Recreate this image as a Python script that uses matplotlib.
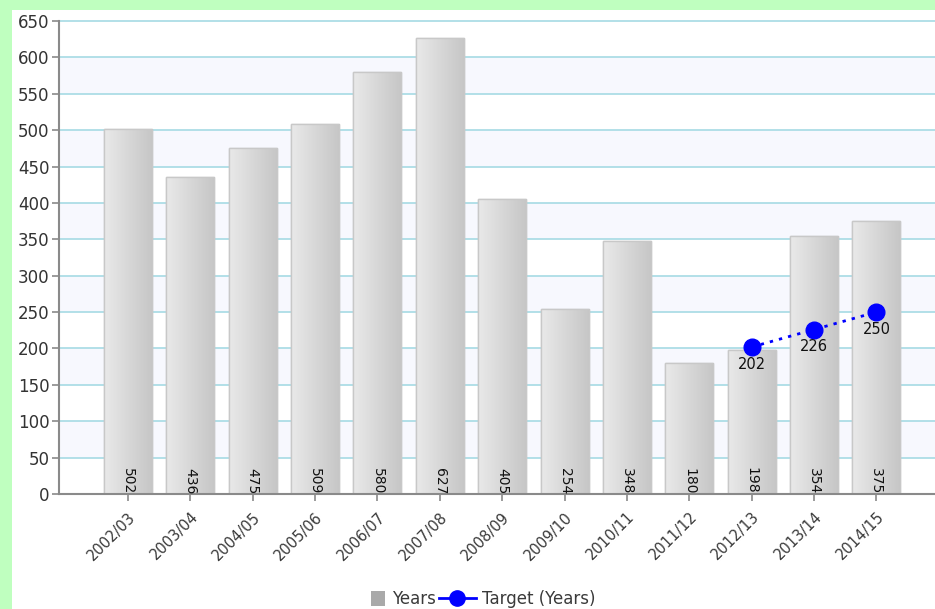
import matplotlib
matplotlib.use("Agg")
import matplotlib.pyplot as plt
import numpy as np
from matplotlib.patches import Rectangle, Patch
from matplotlib.lines import Line2D
from matplotlib.legend_handler import HandlerPatch

# Data
categories = ["2002/03", "2003/04", "2004/05", "2005/06", "2006/07", "2007/08", "2008/09",
              "2009/10", "2010/11", "2011/12", "2012/13", "2013/14", "2014/15"]
years = [502, 436, 475, 509, 580, 627, 405, 254, 348, 180, 198, 354, 375]
target_categories = ["2012/13", "2013/14", "2014/15"]
target_values = [202, 226, 250]
y_ticks = list(range(0, 651, 50))

W, H = 935, 609
fig = plt.figure(figsize=(W / 100, H / 100), dpi=100, facecolor="#bfffbf")

# white chart panel inside the green frame
fig.patches.append(Rectangle((12 / W, 0), 1 - 12 / W, 1 - 10 / H,
                             transform=fig.transFigure, facecolor="white",
                             edgecolor="none", zorder=-5))

ax = fig.add_axes([59 / W, 115 / H, 1 - 59 / W, (494 - 21) / H])
ax.set_facecolor("white")

x = np.arange(len(categories))

# alternating horizontal bands
for lo in range(50, 650, 100):
    ax.axhspan(lo, lo + 50, facecolor="#f7f8fe", edgecolor="none", zorder=0)
for t in y_ticks[1:]:
    ax.axhline(t, color="#acdde6", lw=1.3, zorder=1, clip_on=False)

# gradient-filled bars
bars = ax.bar(x, years, width=0.77, color="#d6d6d6", edgecolor="#c8c8c8",
              linewidth=1, zorder=2)
grad = np.linspace(0, 1, 64).reshape(1, -1)
cmap = matplotlib.colors.LinearSegmentedColormap.from_list("g", ["#e9e9e9", "#c6c6c6"])
for b in bars:
    x0, w, h = b.get_x(), b.get_width(), b.get_height()
    im = ax.imshow(grad, extent=[x0, x0 + w, 0, h], aspect="auto", cmap=cmap,
                   zorder=2.1, interpolation="bicubic")
    im.set_clip_path(b)
    ax.add_patch(Rectangle((x0, 0), w, h, facecolor="none", edgecolor="#c8c8c8",
                           lw=1, zorder=2.2))

# value labels inside the bars
for xi, v in zip(x, years):
    ax.text(xi, 0, str(v), rotation=270, ha="center", va="bottom",
            fontsize=10, color="#111111", zorder=3)

# target line
tx = [categories.index(c) for c in target_categories]
ax.plot(tx, target_values, color="#0000ff", lw=2, linestyle=(0, (1.2, 2.2)),
        marker="o", markersize=12, markerfacecolor="#0000ff",
        markeredgecolor="#0000ff", zorder=4)
for xi, v in zip(tx, target_values):
    ax.annotate(str(v), (xi, v), xytext=(0, -7), textcoords="offset points",
                ha="center", va="top", fontsize=10.5, color="#111111", zorder=5)

ax.set_xlim(-1.106, 12.94)
ax.set_ylim(0, 650)

# axes styling
for s in ["top", "right"]:
    ax.spines[s].set_visible(False)
for s in ["left", "bottom"]:
    ax.spines[s].set_color("#8a8a8a")
    ax.spines[s].set_linewidth(1.5)
ax.set_yticks(y_ticks)
ax.set_yticklabels([str(t) for t in y_ticks])
ax.set_xticks(x)
ax.set_xticklabels(categories, rotation=45, ha="right", rotation_mode="anchor")
ax.tick_params(axis="y", colors="#8a8a8a", labelcolor="#333333", labelsize=12,
               length=5, width=1.2, pad=2)
ax.tick_params(axis="x", colors="#8a8a8a", labelcolor="#3a3a3a", labelsize=10.5,
               length=5, width=1.2, pad=6)


def square_patch(legend, orig_handle, xdescent, ydescent, width, height, fontsize):
    side = height * 1.25
    return Rectangle((width - side - xdescent, -ydescent + (height - side) / 2),
                     side, side)


handles = [Patch(facecolor="#a9a9a9", edgecolor="none", label="Years"),
           Line2D([0], [0], color="#0000ff", lw=2, marker="o", markersize=11,
                  label="Target (Years)")]
fig.legend(handles=handles, loc="center", bbox_to_anchor=(0.505, 0.016), ncol=2,
           frameon=False, fontsize=12, handlelength=2.2, handletextpad=0.4,
           columnspacing=0.2, labelcolor="#3a3a3a",
           handler_map={Patch: HandlerPatch(patch_func=square_patch)})

fig.savefig("out.png", dpi=100, facecolor=fig.get_facecolor())
